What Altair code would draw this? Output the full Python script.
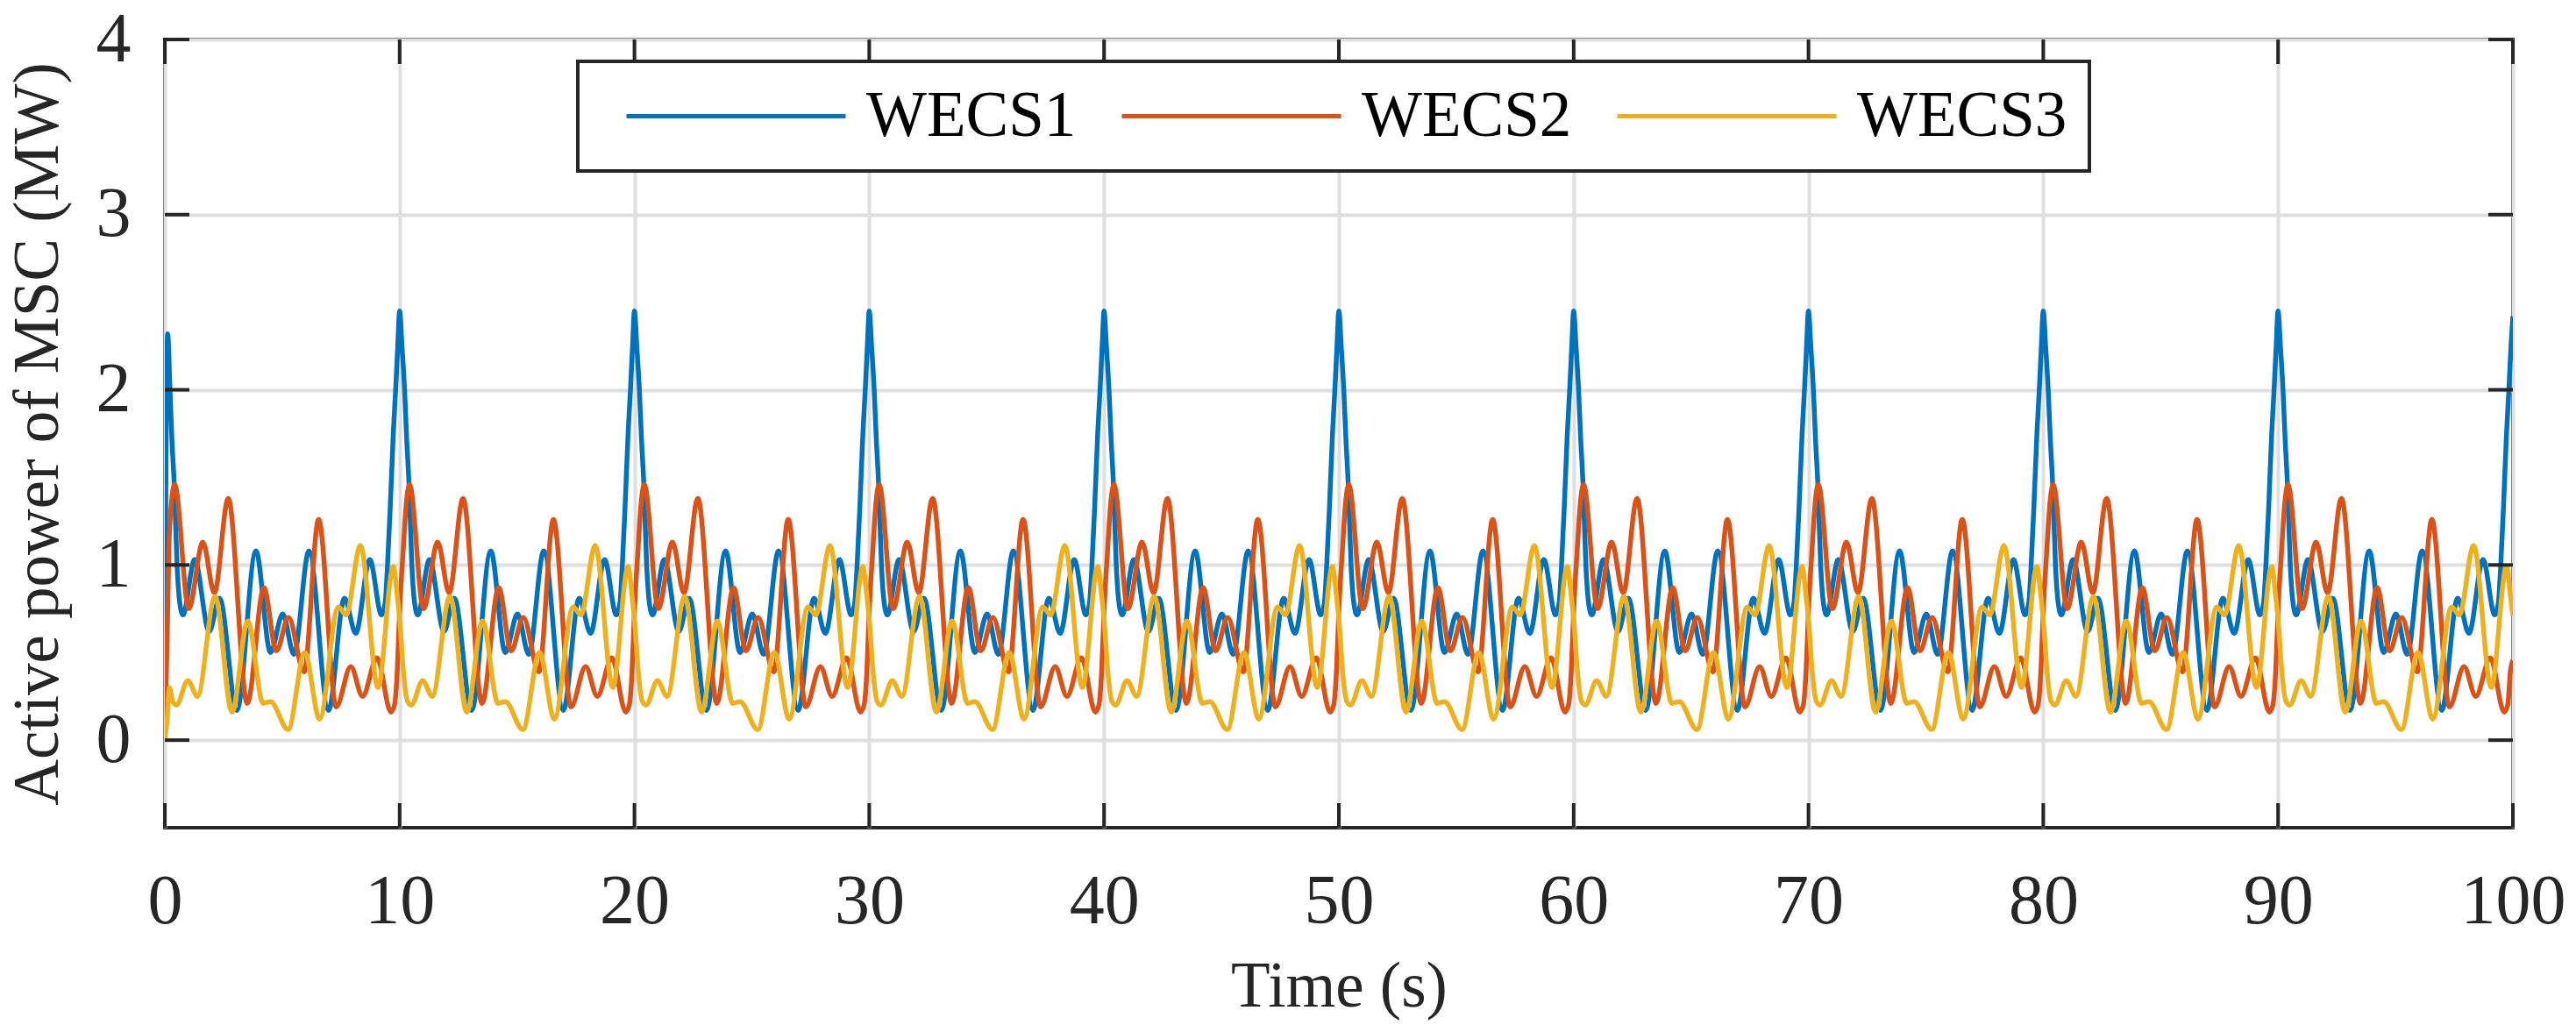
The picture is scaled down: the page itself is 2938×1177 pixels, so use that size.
import altair as alt
import pandas as pd

# ---------------- data ----------------
series_names = ["WECS1", "WECS2", "WECS3"]
series_colors = ["#0072BD", "#D95319", "#EDB120"]

period_s = 10.0
n_periods = 10
start_cut = 0.3

# one 10 s period (phase in s, value in MW)
wecs1_phase = [0.00, 0.10, 0.21, 0.30, 0.40, 0.52, 0.64, 0.77, 1.27, 1.89, 2.33, 3.07, 3.88, 4.50,
               5.02, 5.50, 6.14, 6.97, 7.65, 8.13, 8.73, 9.23, 9.38, 9.48, 9.60, 9.73, 9.83, 9.92]
wecs1_value = [2.45, 2.25, 2.00, 1.72, 1.46, 1.00, 0.78, 0.715, 1.03, 0.62, 0.81, 0.17, 1.08, 0.50,
               0.72, 0.49, 1.08, 0.17, 0.81, 0.61, 1.03, 0.715, 0.78, 0.99, 1.33, 1.75, 2.00, 2.25]

wecs2_phase = [0.00, 0.15, 0.27, 0.42, 1.02, 1.62, 2.11, 2.70, 3.51, 4.22, 4.75, 5.27, 5.93, 6.55,
               7.30, 7.92, 8.42, 9.04, 9.63, 9.78, 9.90]
wecs2_value = [0.74, 1.08, 1.33, 1.46, 0.75, 1.13, 0.84, 1.38, 0.21, 0.87, 0.51, 0.70, 0.39, 1.26,
               0.19, 0.42, 0.25, 0.47, 0.16, 0.20, 0.40]

wecs3_phase = [0.02, 0.15, 0.34, 0.50, 0.98, 1.39, 2.14, 2.86, 3.53, 4.19, 4.50, 5.25, 5.96, 6.59,
               7.39, 7.72, 8.33, 9.08, 9.73, 9.90]
wecs3_value = [0.66, 0.41, 0.22, 0.20, 0.34, 0.25, 0.82, 0.16, 0.68, 0.21, 0.22, 0.06, 0.50, 0.12,
               0.76, 0.715, 1.11, 0.30, 0.99, 0.82]

# start-up transient (t < 0.3 s)
wecs1_start_t = [0.00, 0.03, 0.12, 0.22]
wecs1_start_v = [0.00, 1.10, 2.32, 2.00]
wecs2_start_t = [0.00, 0.10, 0.20]
wecs2_start_v = [0.00, 0.60, 1.20]
wecs3_start_t = [0.00, 0.10, 0.20]
wecs3_start_v = [0.00, 0.12, 0.30]

# value at t = 100 s
end_t = 100.0
end_values = [2.42, 0.455, 0.71]

x_ticks = [0, 10, 20, 30, 40, 50, 60, 70, 80, 90, 100]
y_ticks = [0, 1, 2, 3, 4]

# ---------------- build table ----------------
rows = []
templates = [
    (wecs1_phase, wecs1_value, wecs1_start_t, wecs1_start_v),
    (wecs2_phase, wecs2_value, wecs2_start_t, wecs2_start_v),
    (wecs3_phase, wecs3_value, wecs3_start_t, wecs3_start_v),
]
for name, (ph, val, st, sv), ev in zip(series_names, templates, end_values):
    for t, v in zip(st, sv):
        rows.append({"t": t, "p": v, "series": name})
    for k in range(n_periods):
        for p, v in zip(ph, val):
            if k == 0 and p < start_cut:
                continue
            rows.append({"t": k * period_s + p, "p": v, "series": name})
    rows.append({"t": end_t, "p": ev, "series": name})
df = pd.DataFrame(rows)

xt = pd.DataFrame({"t": x_ticks})
yt = pd.DataFrame({"p": y_ticks})

W, H = 2678, 899
TICK = 28
FONT = "Liberation Serif"
AX = "#262626"

xscale = alt.Scale(domain=[0, 100], nice=False, zero=False)
yscale = alt.Scale(domain=[-0.5, 4], nice=False, zero=False)
xaxis = alt.Axis(title="Time (s)", values=x_ticks, grid=True, ticks=False, tickSize=0,
                 domain=False, labelPadding=45, titlePadding=21, format="d",
                 labelFlush=False, labelBound=False)
yaxis = alt.Axis(title="Active power of MSC (MW)", values=y_ticks, grid=True, ticks=False,
                 tickSize=0, domain=False, labelPadding=39, titlePadding=29, format="d",
                 labelFlush=False, labelBound=False)
X = alt.X("t:Q", scale=xscale, axis=xaxis)
Y = alt.Y("p:Q", scale=yscale, axis=yaxis)

lines = alt.Chart(df).mark_line(strokeWidth=5.5, interpolate="monotone", clip=True).encode(
    x=X,
    y=Y,
    color=alt.Color("series:N",
                    scale=alt.Scale(domain=series_names, range=series_colors),
                    legend=alt.Legend(title=None, orient="none", legendX=471, legendY=25,
                                      direction="horizontal", symbolType="stroke",
                                      symbolSize=62500, symbolStrokeWidth=5, clipHeight=75,
                                      symbolOffset=28, labelOffset=21, columnPadding=21,
                                      labelFontSize=73, labelFont=FONT, labelColor="black",
                                      labelLimit=600, padding=25, strokeColor=AX,
                                      fillColor="white")),
)

tick_bottom = alt.Chart(xt).mark_rule(color=AX, strokeWidth=4).encode(
    x=X, y=alt.value(H), y2=alt.value(H - TICK))
tick_top = alt.Chart(xt).mark_rule(color=AX, strokeWidth=4).encode(
    x=X, y=alt.value(0), y2=alt.value(TICK))
tick_left = alt.Chart(yt).mark_rule(color=AX, strokeWidth=4).encode(
    y=Y, x=alt.value(0), x2=alt.value(TICK))
tick_right = alt.Chart(yt).mark_rule(color=AX, strokeWidth=4).encode(
    y=Y, x=alt.value(W - TICK), x2=alt.value(W))

chart = alt.layer(lines, tick_bottom, tick_top, tick_left, tick_right).properties(
    width=W, height=H,
    autosize=alt.AutoSizeParams(type="none"),
    padding={"left": 180, "top": 37, "right": 64, "bottom": 225},
    background="white",
).configure_view(
    stroke=AX, strokeWidth=4
).configure_legend(
    strokeWidth=4
).configure_axis(
    gridColor="#DFDFDF", gridWidth=4, gridOpacity=1,
    labelFont=FONT, labelFontSize=80, labelColor=AX,
    titleFont=FONT, titleFontSize=73, titleColor=AX, titleFontWeight="normal",
)

chart.save("out.html", embed_options={"renderer": "svg", "actions": False})
